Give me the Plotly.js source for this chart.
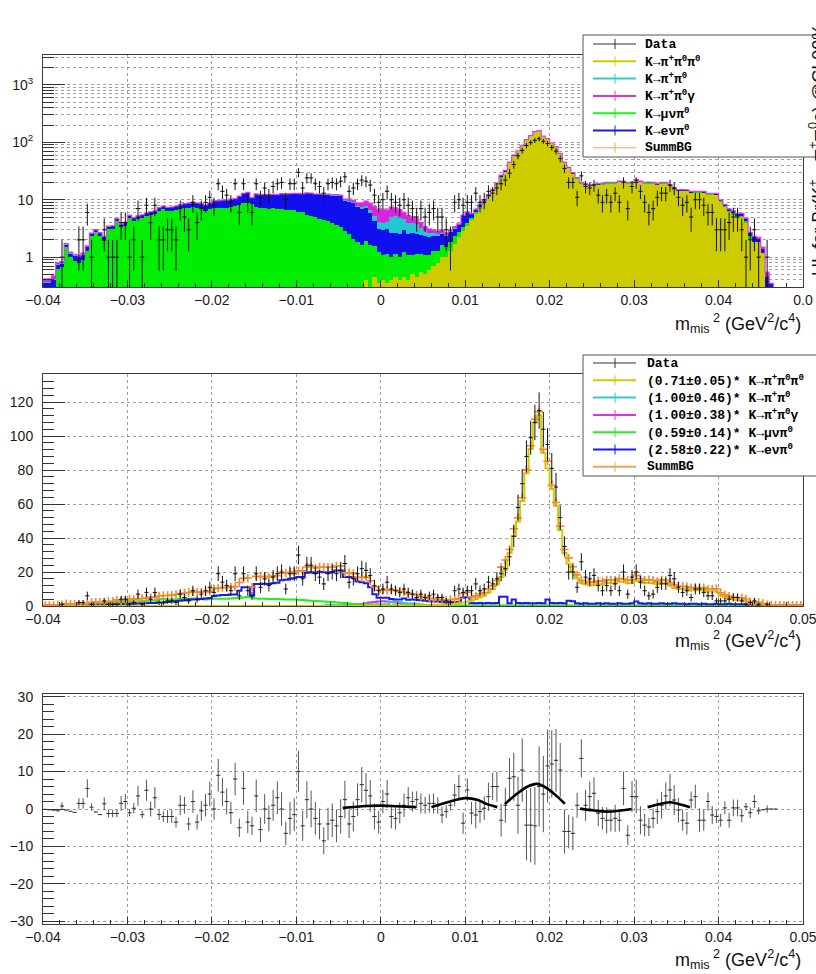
<!DOCTYPE html>
<html>
<head>
<meta charset="utf-8">
<script src="https://cdn.plot.ly/plotly-3.0.1.min.js"></script>
<style>
  html, body { margin: 0; padding: 0; background: #fff; }
  #chart { width: 816px; height: 974px; }
</style>
</head>
<body>
<div id="chart"></div>
<script>
// ---------------------------------------------------------------------------
// Missing-mass-squared spectrum, 180 bins of 0.0005 GeV^2/c^4 from -0.04 to 0.05
// ---------------------------------------------------------------------------
const BIN_LO = -0.04;
const BIN_W = 0.0005;

// Observed counts per bin
const dataCounts = [
  0,0,0,0,1,0,0,0,2,2,
  6,1,0,0,3,1,1,1,4,4,
  1,2,7,1,8,4,8,2,2,3,
  3,2,7,5,3,9,4,7,9,11,
  8,19,14,12,9,19,6,19,9,6,
  19,11,16,12,17,19,20,10,19,19,
  30,16,24,24,19,17,13,19,20,19,
  21,25,14,16,19,22,21,18,12,9,
  10,14,10,9,8,10,8,7,5,7,
  5,6,7,5,5,3,2,9,10,8,
  9,9,13,9,10,14,13,16,19,22,
  29,41,58,72,88,99,108,115,104,95,
  81,70,52,35,20,20,11,26,17,16,
  18,12,9,12,9,13,9,20,7,17,
  20,14,9,6,7,11,13,13,18,16,
  11,8,9,5,10,10,8,6,6,3,
  3,3,4,5,5,3,1,2,3,1,
  0,1,0,0,0,0,0,0,0,0
];

// Simulated channels (unscaled)
const mcK3pi = [   // K -> pi+ pi0 pi0
  0,0,0,0,0,0,0,0,0,0,
  0,0,0,0,0,0,0,0,0,0,
  0,0,0,0,0,0,0,0,0,0,
  0,0,0,0,0,0,0,0,0,0,
  0,0,0,0,0,0,0,0,0,0,
  0,0,0,0,0,0,0,0,0,0,
  0,0,0,0,0,0,0,0,0,0,
  0,0,0,0,0,0,0.4,0.3,0.45,0.35,
  0.4,0.35,0.4,0.45,0.4,0.45,0.4,0.5,0.45,0.55,
  0.5,0.6,0.7,0.8,1.0,1.0,1.3,1.7,2.2,2.8,
  3.5,4.5,5.6,7,8.5,11,14,18,24,30,
  44,58,70,87,110,130,152,158,127,114,
  97,83,63,44,35,28,23,19,18,17,
  17.5,18,18,19,19,19,20,20,19,19,
  21,20,19,19,19,18,19,19,17,15,
  14,14,14,13,13,13,13,12,12,12,
  9,7.5,6,5.5,5,5,4,2,1.8,1.8,
  1.2,0.25,0.15,0,0,0,0,0,0,0
];
const mcKpi2 = [   // K -> pi+ pi0
  0.02,0.02,0.02,0.02,0.02,0.02,0.02,0.02,0.02,0.02,
  0.02,0.02,0.02,0.02,0.02,0.02,0.02,0.02,0.02,0.02,
  0.02,0.02,0.02,0.02,0.02,0.02,0.02,0.02,0.02,0.02,
  0.02,0.02,0.02,0.02,0.02,0.02,0.02,0.02,0.02,0.02,
  0.02,0.02,0.02,0.02,0.02,0.02,0.02,0.02,0.02,0.02,
  0.02,0.02,0.02,0.02,0.02,0.02,0.02,0.02,0.02,0.02,
  0.02,0.02,0.02,0.02,0.02,0.02,0.2,0.6,0.6,0.5,
  0.3,0.3,0.4,0.4,0.5,0.6,0.8,0.8,0.9,1.0,
  1.0,1.0,2.5,2.6,2.4,1.6,1.5,1.4,1.2,0.8,
  0.5,0.4,0.3,0.2,0.15,0.1,0.1,0.1,0.05,0.05,
  0.02,0.02,0.02,0.02,0.02,0.02,0.02,0.02,0.02,0.02,
  0.02,0.02,0.02,0.02,0.02,0.02,0.02,0.02,0.02,0.02,
  0.02,0.02,0.02,0.02,0.02,0.02,0.02,0.02,0.02,0.02,
  0.02,0.02,0.02,0.02,0.02,0.02,0.02,0.02,0.02,0.02,
  0.02,0.02,0.02,0.02,0.02,0.02,0.02,0.02,0.02,0.02,
  0.02,0.02,0.02,0.02,0.02,0.02,0.02,0.02,0.02,0.02,
  0,0,0,0,0,0,0,0,0,0,
  0,0,0,0,0,0,0,0,0,0
];
const mcKpi2g = [  // K -> pi+ pi0 gamma
  0.05,0.05,0.05,0.05,0.05,0.05,0.05,0.05,0.05,0.05,
  0.05,0.05,0.05,0.05,0.05,0.05,0.05,0.05,0.05,0.05,
  0.05,0.05,0.05,0.05,0.05,0.05,0.05,0.05,0.05,0.05,
  0.05,0.05,0.05,0.05,0.05,0.05,0.05,0.05,0.05,0.05,
  0.05,0.05,0.05,0.05,0.05,0.05,0.05,0.05,0.05,0.05,
  0.05,0.05,0.05,0.05,0.05,0.05,0.05,0.05,0.05,0.05,
  0.05,0.05,0.05,0.05,0.05,0.05,0.05,0.05,0.05,0.05,
  0.3,0.5,0.7,0.8,0.9,1.2,1.6,2.0,2.4,2.7,
  2.8,2.6,2.3,2.0,1.8,1.5,1.3,1.1,0.9,0.8,
  0.6,0.5,0.4,0.35,0.3,0.25,0.2,0.2,0.15,0.15,
  0.1,0.1,0.1,0.1,0.1,0.1,0.1,0.1,0.1,0.1,
  0.1,0.1,0.1,0.1,0.1,0.1,0.1,0.1,0.1,0.1,
  0.1,0.1,0.1,0.1,0.1,0.1,0.1,0.1,0.1,0.1,
  0.1,0.1,0.1,0.1,0.1,0.1,0.1,0.1,0.1,0.1,
  0.1,0.1,0.1,0.1,0.1,0.1,0.1,0.1,0.1,0.1,
  0.1,0.1,0.1,0.1,0.1,0.1,0.1,0.1,0.1,0.1,
  0.1,0.1,0.1,0.1,0.1,0.1,0.1,0.1,0.1,0.1,
  0.1,0.1,0,0,0,0,0,0,0,0
];
const mcMu3 = [    // K -> mu nu pi0
  0.3,0.3,0.3,0.63,0.67,1.5,1.0,0.85,0.8,0.9,
  1.3,2.3,2.7,2.3,1.9,3.1,3.1,4.2,3.3,3.5,
  4.8,4.3,4.6,4.8,5.2,5.4,5.6,6.4,6.9,6.4,
  6.4,6.6,6.9,7.2,7.2,7.4,7.2,6.9,6.4,6.9,
  7.2,7.2,7.3,7.3,7.6,7.8,8.0,8.6,9.0,8.4,
  7.6,7.2,7.2,7.0,7.1,6.9,6.8,6.6,6.5,6.5,
  6.2,6.0,5.5,5.3,5.0,4.7,4.5,4.3,3.9,3.6,
  3.3,2.9,2.5,2.1,1.8,1.6,1.5,1.3,1.1,0.9,
  0.7,0.8,0.6,0.7,0.6,0.8,0.7,0.6,0.7,0.6,
  0.6,0.5,0.6,0.5,0.6,0.5,0.5,0.6,0.5,0.5,
  0.5,0.4,0.5,0.5,0.4,0.5,0.4,0.5,0.5,0.4,
  0.5,0.5,0.4,0.5,0.4,0.5,0.5,0.4,0.5,0.4,
  0.4,0.5,0.4,0.5,0.4,0.4,0.5,0.4,0.4,0.5,
  0.4,0.4,0.5,0.4,0.4,0.5,0.4,0.4,0.4,0.5,
  0.4,0.4,0.4,0.5,0.4,0.4,0.4,0.4,0.5,0.4,
  0.4,0.4,0.4,0.3,0.4,0.4,0.3,0.4,0.4,0.3,
  0.4,0.3,0.3,0.4,0.3,0.3,0.3,0.3,0,0,
  0,0,0,0,0,0,0,0,0,0
];
const mcE3 = [     // K -> e nu pi0
  0.05,0.05,0.1,0.1,0.1,0.15,0.15,0.2,0.2,0.2,
  0.2,0.25,0.25,0.3,0.3,0.3,0.35,0.4,0.4,0.45,
  0.5,0.5,0.55,0.6,0.6,0.7,0.7,0.8,0.8,0.9,
  1.0,1.1,1.2,1.3,1.4,1.5,1.5,1.6,1.7,1.8,
  2.3,2.4,2.5,2.5,2.6,2.6,3.5,4.3,4.3,2.4,
  5.0,5.0,5.1,5.0,5.2,5.3,5.9,6.0,6.2,6.3,
  6.6,6.6,7.6,7.7,7.5,7.8,7.7,7.6,7.7,8.1,
  8.1,6.6,6.6,6.5,5.6,5.4,5.2,4.3,2.7,1.9,
  1.9,1.9,1.6,1.5,1.5,1.7,1.4,1.5,1.4,1.3,
  1.2,1.1,1.0,1.0,0.9,0.8,0.9,0.8,0.9,1.9,
  2.0,0.7,0.6,0.7,0.6,0.7,0.6,0.7,2.1,2.1,
  0.6,1.5,0.7,0.6,0.7,0.6,0.6,0.7,0.6,1.5,
  0.7,0.6,0.7,0.6,1.2,1.1,0.6,0.5,0.6,0.5,
  0.5,0.6,0.5,0.6,0.5,0.5,0.6,0.5,0.5,0.6,
  1.0,0.6,0.5,0.6,0.5,0.5,0.6,0.5,0.5,0.6,
  0.5,0.5,0.4,0.5,0.5,0.4,0.5,0.4,0.4,0.5,
  0.4,0.4,0.5,0.4,0.4,0.4,0.4,0.3,0.4,0.3,
  0.2,0.2,0.2,0.2,0.2,0.2,0.2,0.2,0.2,0.2
];

// Fitted scale factors of each channel and their errors
const scaleFactors   = [0.71, 1.00, 1.00, 0.59, 2.58];
const scaleErrors    = [0.05, 0.46, 0.38, 0.14, 0.22];
const channelLabels  = [
  'K→π<sup>+</sup>π<sup>0</sup>π<sup>0</sup>',
  'K→π<sup>+</sup>π<sup>0</sup>',
  'K→π<sup>+</sup>π<sup>0</sup>γ',
  'K→μνπ<sup>0</sup>',
  'K→eνπ<sup>0</sup>'
];
const channelColours = ['#cccc00', '#33cccc', '#dd33dd', '#22ee22', '#1a1aee'];
const stackFill      = ['#cccc00', '#22c8d0', '#dd22dd', '#00ee00', '#1010ee'];
const summColour     = '#f5a15a';

// Data minus fitted sum, per bin
const residual = [
  -0.1,-0.2,-0.3,-0.5,0.8,-0.3,-0.6,-0.9,1.5,1.5,
  5.5,0.5,-0.8,-1.5,1.4,-1.2,-1.2,-1.2,1.5,2,
  -1,0.2,3.5,-1.5,5,0,3,-1.5,-2,-2,
  -2,-3.5,1,1,-4,2,-3.5,-0.5,1,4,
  0,9,4.5,2,-1,8,-5,5.5,-3.5,-4.5,
  3.5,-5.5,0,-2.5,1,3,0,-6.5,-2.5,-1.5,
  10,-4.5,2.5,0,-2.5,-4,-8.5,-4,-3,-4.5,
  -2,2.5,-4,-2,2.5,6.5,5,3.5,-2,-3.5,
  2,4,-2,-2.5,-1,1,3,2,2.5,1.5,
  1,1.5,1.5,0.9,-1.6,-0.7,1,3.7,6,-3.8,
  5.1,-1.1,-1.6,-0.7,0.2,3.3,6,6,-3,1,
  8.2,8.6,1,10.4,-4.3,-4.3,-4.5,6,4,11.5,
  12,13,10.4,-6,-6,-6.5,1,13.5,1,3.3,
  4.2,-1.1,-2.5,-3,-3,-2.5,-3,5.5,-7,3.3,
  3.3,-3,-4.3,-4.8,-2.5,-0.7,1,3.5,5.1,2.4,
  -0.3,-3,-3.8,2.4,3.3,-3,-3,2,-1.6,-2,
  -3,0.3,-3,0.3,0.3,-1.8,0.6,-1,2,-0.5,
  -0.2,0,0,0,null,null,null,null,null,null
];

// Local fits of the residual, one piece per window
const fitPieces = [
  { x: [-0.0045, -0.0017, 0.0, 0.0012, 0.0042],            y: [0.3, 0.8, 0.9, 0.8, 0.5] },
  { x: [0.0060, 0.0082, 0.0100, 0.0115, 0.0126, 0.0138],    y: [0.5, 2.0, 2.9, 2.4, 1.3, 0.5] },
  { x: [0.0147, 0.0162, 0.0174, 0.0185, 0.0197, 0.0209, 0.0218], y: [1.3, 4.2, 6.0, 6.7, 5.5, 3.3, 1.4] },
  { x: [0.0236, 0.0253, 0.0268, 0.0284, 0.0297],            y: [0.1, -0.4, -0.7, -0.4, 0.0] },
  { x: [0.0316, 0.0332, 0.0343, 0.0355, 0.0366],            y: [0.5, 1.4, 1.8, 1.2, 0.5] }
];

// Axis ticks
const xTickVals = [-0.04, -0.03, -0.02, -0.01, 0, 0.01, 0.02, 0.03, 0.04, 0.05];
const xTickText = ['−0.04', '−0.03', '−0.02', '−0.01', '0', '0.01', '0.02', '0.03', '0.04', '0.05'];
const xTickTextTop = ['−0.04', '−0.03', '−0.02', '−0.01', '0', '0.01', '0.02', '0.03', '0.04', '0.0'];
const logTickVals = [1, 10, 100, 1000];
const logTickText = ['1', '10', '10<sup>2</sup>', '10<sup>3</sup>'];
const logMinorVals = [0.4, 0.5, 0.6, 0.7, 0.8, 0.9, 2, 3, 4, 5, 6, 7, 8, 9,
                      20, 30, 40, 50, 60, 70, 80, 90, 200, 300, 400, 500, 600, 700, 800, 900, 2000, 3000];

// ---------------------------------------------------------------------------
const channels = [mcK3pi, mcKpi2, mcKpi2g, mcMu3, mcE3];
const nBins = dataCounts.length;
const binCentres = dataCounts.map((_, i) => BIN_LO + BIN_W * (i + 0.5));
const binEdges = dataCounts.map((_, i) => BIN_LO + BIN_W * i).concat([BIN_LO + BIN_W * nBins]);
const dataErr = dataCounts.map(Math.sqrt);
const dataShown = dataCounts.map(v => (v > 0 ? v : null));
const scaled = channels.map((arr, k) => arr.map(v => v * scaleFactors[k]));
const summBG = binCentres.map((_, i) => scaled.reduce((s, arr) => s + arr[i], 0));
const stackTotal = binCentres.map((_, i) => channels.reduce((s, arr) => s + arr[i], 0));
const stepY = vals => vals.concat([vals[vals.length - 1]]);

// Page geometry (pixels) -> paper coordinates
const W = 816, H = 974, ML = 43, MR = 13;
const px2x = px => (px - ML) / (W - ML - MR);
const px2y = py => 1 - py / H;

const TICK_FONT = { family: 'Liberation Sans, Arial, sans-serif', size: 14, color: '#1a1a1a' };
const grid = { showgrid: true, gridcolor: '#a0a0a0', griddash: 'dot', gridwidth: 1 };
const frame = { showline: true, mirror: true, linecolor: '#3a3a3a', linewidth: 1, zeroline: false };

function xAxis(anchor, labels) {
  return Object.assign({
    anchor: anchor, domain: [0, 1], range: [-0.04, 0.05],
    tickmode: 'array', tickvals: xTickVals, ticktext: labels, ticklabeloverflow: 'allow',
    ticks: 'inside', ticklen: 7, tickcolor: '#333', tickfont: TICK_FONT,
    minor: { tickmode: 'linear', tick0: 0, dtick: 0.002, ticks: 'inside', ticklen: 4, tickcolor: '#333', showgrid: false }
  }, grid, frame);
}
function yLinear(domainPx, range, dtick, minorDtick) {
  return Object.assign({
    domain: [px2y(domainPx[1]), px2y(domainPx[0])], range: range,
    tickmode: 'linear', tick0: 0, dtick: dtick,
    ticks: 'inside', ticklen: 22, tickcolor: '#333', tickfont: TICK_FONT, ticklabelstandoff: 6,
    minor: { tickmode: 'linear', tick0: 0, dtick: minorDtick, ticks: 'inside', ticklen: 11, tickcolor: '#333', showgrid: false }
  }, grid, frame);
}

const traces = [];

// ---- top pad: stacked channels on a log scale ----
const stackOrder = [0, 3, 4, 1, 2];   // K3pi, mu3, e3, pi+pi0, pi+pi0gamma from the bottom
stackOrder.forEach(k => {
  traces.push({
    type: 'bar', xaxis: 'x', yaxis: 'y', x: binCentres, y: channels[k], width: BIN_W,
    marker: { color: stackFill[k], line: { width: 0 } }, hoverinfo: 'skip'
  });
});
traces.push({
  type: 'scatter', mode: 'lines', xaxis: 'x', yaxis: 'y', x: binEdges, y: stepY(stackTotal),
  line: { shape: 'hv', color: '#e040e0', width: 1.2 }, hoverinfo: 'skip'
});
const dataStyle = {
  type: 'scatter', mode: 'markers', marker: { size: 1, color: '#111' },
  error_y: { type: 'data', array: dataErr, visible: true, thickness: 1, width: 0, color: '#111' },
  error_x: { type: 'constant', value: BIN_W / 2, visible: true, thickness: 1, width: 0, color: '#111' },
  hoverinfo: 'skip'
};
traces.push(Object.assign({}, dataStyle, { xaxis: 'x', yaxis: 'y', x: binCentres, y: dataShown }));

// ---- middle pad: scaled channels as step lines ----
[2, 1, 3, 4, 0].forEach(k => {
  traces.push({
    type: 'scatter', mode: 'lines', xaxis: 'x2', yaxis: 'y2', x: binEdges, y: stepY(scaled[k]),
    line: { shape: 'hv', color: channelColours[k], width: 2 }, hoverinfo: 'skip'
  });
});
traces.push({
  type: 'scatter', mode: 'markers', xaxis: 'x2', yaxis: 'y2', x: binCentres, y: summBG,
  marker: { symbol: 'cross-thin-open', size: 6, color: '#f08a30', line: { color: '#f08a30', width: 1.6 } },
  hoverinfo: 'skip'
});
traces.push(Object.assign({}, dataStyle, { xaxis: 'x2', yaxis: 'y2', x: binCentres, y: dataShown }));

// ---- bottom pad: residuals and local fits ----
traces.push(Object.assign({}, dataStyle, {
  xaxis: 'x3', yaxis: 'y3', x: binCentres, y: residual,
  marker: { size: 1, color: '#333' },
  error_y: { type: 'data', array: dataErr, visible: true, thickness: 1, width: 0, color: '#555' },
  error_x: { type: 'constant', value: BIN_W / 2, visible: true, thickness: 1, width: 0, color: '#333' }
}));
fitPieces.forEach(p => {
  traces.push({
    type: 'scatter', mode: 'lines', xaxis: 'x3', yaxis: 'y3', x: p.x, y: p.y,
    line: { shape: 'spline', color: '#000', width: 2.6 }, hoverinfo: 'skip'
  });
});

// ---- legends (boxes, samples and texts) ----
const shapes = [];
const annotations = [];
function legendBox(topPx, bottomPx, rowTopPx, textPx, entries) {
  shapes.push({ type: 'rect', xref: 'paper', yref: 'paper', layer: 'above',
    x0: px2x(583), x1: px2x(840), y0: px2y(bottomPx), y1: px2y(topPx),
    fillcolor: '#ffffff', line: { color: '#555', width: 1 } });
  entries.forEach((e, r) => {
    const yPx = rowTopPx + 17.3 * r;
    shapes.push({ type: 'line', xref: 'paper', yref: 'paper', layer: 'above',
      x0: px2x(593), x1: px2x(636), y0: px2y(yPx), y1: px2y(yPx), line: { color: e.colour, width: e.width } });
    shapes.push({ type: 'line', xref: 'paper', yref: 'paper', layer: 'above',
      x0: px2x(615), x1: px2x(615), y0: px2y(yPx - 5), y1: px2y(yPx + 5), line: { color: e.colour, width: 1 } });
    annotations.push({ xref: 'paper', yref: 'paper', x: px2x(textPx), y: px2y(yPx), xanchor: 'left', yanchor: 'middle',
      showarrow: false, text: '<b>' + e.text + '</b>',
      font: { family: 'Liberation Mono, Courier New, monospace', size: 13, color: '#000' } });
  });
}
const topEntries = [{ text: 'Data', colour: '#333', width: 1 }]
  .concat(channelLabels.map((t, k) => ({ text: t, colour: channelColours[k], width: 2 })))
  .concat([{ text: 'SummBG', colour: summColour, width: 1 }]);
const midEntries = [{ text: 'Data', colour: '#333', width: 1 }]
  .concat(channelLabels.map((t, k) => ({
    text: '(' + scaleFactors[k].toFixed(2) + '±' + scaleErrors[k].toFixed(2) + ')* ' + t,
    colour: channelColours[k], width: 2 })))
  .concat([{ text: 'SummBG', colour: summColour, width: 2 }]);
legendBox(35, 157, 44, 643, topEntries);
legendBox(355, 476, 363, 645, midEntries);

// axis titles
const xTitle = 'm<sub>mis</sub><sup> 2</sup> (GeV<sup>2</sup>/c<sup>4</sup>)';
[323, 640, 959].forEach(yPx => {
  annotations.push({ xref: 'paper', yref: 'paper', x: px2x(803), y: px2y(yPx), xanchor: 'right', yanchor: 'middle',
    showarrow: false, text: xTitle, font: { family: 'Liberation Sans, Arial, sans-serif', size: 18, color: '#111' } });
});
// side label of the neighbouring pad
annotations.push({ xref: 'paper', yref: 'paper', x: px2x(817), y: px2y(150), xanchor: 'center', yanchor: 'middle',
  textangle: -90, showarrow: false,
  text: 'UL for Br(K<sup>+</sup>→π<sup>+</sup>π<sup>0</sup>e) @CL90%',
  font: { family: 'Liberation Sans, Arial, sans-serif', size: 18, color: '#111' } });

const layout = {
  width: W, height: H,
  margin: { l: ML, r: MR, t: 0, b: 0, autoexpand: false },
  paper_bgcolor: '#fff', plot_bgcolor: '#fff',
  showlegend: false, barmode: 'stack', bargap: 0,
  xaxis: xAxis('y', xTickTextTop),
  xaxis2: xAxis('y2', xTickText),
  xaxis3: xAxis('y3', xTickText),
  yaxis: Object.assign({
    type: 'log', domain: [px2y(287), px2y(55)], range: [-0.52, 3.52],
    tickmode: 'array', tickvals: logTickVals, ticktext: logTickText,
    ticks: 'inside', ticklen: 22, tickcolor: '#333', tickfont: TICK_FONT, ticklabelstandoff: 6,
    minor: { tickmode: 'array', tickvals: logMinorVals, ticks: 'inside', ticklen: 11, tickcolor: '#333',
             showgrid: true, gridcolor: '#a0a0a0', griddash: 'dot', gridwidth: 1 }
  }, grid, frame),
  yaxis2: yLinear([374, 606], [0, 136.5], 20, 4),
  yaxis3: yLinear([694, 924], [-30.7, 30.7], 10, 2),
  shapes: shapes,
  annotations: annotations
};

Plotly.newPlot('chart', traces, layout, { staticPlot: true, displayModeBar: false });
</script>
</body>
</html>
